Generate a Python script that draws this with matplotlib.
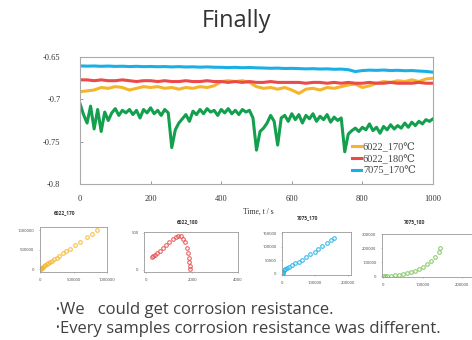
import matplotlib
matplotlib.use("Agg")
import matplotlib.pyplot as plt
import numpy as np

# ---- main chart data ----
t_main = list(range(0, 1001, 20))
s6022_170 = [-0.691, -0.690, -0.689, -0.686, -0.687, -0.685, -0.686, -0.689, -0.687, -0.685,
             -0.686, -0.685, -0.687, -0.686, -0.688, -0.686, -0.687, -0.685, -0.686, -0.684,
             -0.679, -0.678, -0.679, -0.678, -0.680, -0.685, -0.687, -0.686, -0.688, -0.686,
             -0.689, -0.693, -0.688, -0.687, -0.689, -0.686, -0.687, -0.685, -0.683, -0.682,
             -0.686, -0.684, -0.681, -0.679, -0.680, -0.678, -0.679, -0.677, -0.679, -0.676,
             -0.675]
s6022_180 = [-0.677, -0.677, -0.678, -0.677, -0.678, -0.678, -0.677, -0.678, -0.679, -0.678,
             -0.678, -0.679, -0.678, -0.679, -0.679, -0.678, -0.679, -0.679, -0.678, -0.679,
             -0.679, -0.680, -0.679, -0.680, -0.679, -0.680, -0.680, -0.679, -0.680, -0.680,
             -0.680, -0.680, -0.681, -0.680, -0.680, -0.681, -0.680, -0.681, -0.680, -0.681,
             -0.681, -0.680, -0.681, -0.681, -0.680, -0.681, -0.681, -0.681, -0.680, -0.681,
             -0.681]
s7075_170 = [-0.6605, -0.6608, -0.6606, -0.6610, -0.6607, -0.6611, -0.6609, -0.6613, -0.6610, -0.6614,
             -0.6612, -0.6615, -0.6613, -0.6617, -0.6614, -0.6618, -0.6616, -0.6620, -0.6617, -0.6621,
             -0.6622, -0.6625, -0.6622, -0.6627, -0.6624, -0.6628, -0.6630, -0.6633, -0.6631, -0.6636,
             -0.6634, -0.6637, -0.6640, -0.6638, -0.6642, -0.6640, -0.6645, -0.6643, -0.6650, -0.6672,
             -0.6660, -0.6655, -0.6658, -0.6654, -0.6660, -0.6657, -0.6662, -0.6660, -0.6666, -0.6670,
             -0.6680]
t_green = list(range(0, 1001, 10))
s7075_180 = [-0.705, -0.718, -0.728, -0.708, -0.735, -0.712, -0.738, -0.715, -0.725, -0.716,
             -0.711, -0.719, -0.713, -0.716, -0.712, -0.718, -0.713, -0.722, -0.712, -0.716,
             -0.710, -0.717, -0.713, -0.719, -0.712, -0.716, -0.757, -0.736, -0.728, -0.723,
             -0.718, -0.726, -0.714, -0.718, -0.712, -0.717, -0.711, -0.715, -0.713, -0.719,
             -0.712, -0.716, -0.711, -0.717, -0.713, -0.718, -0.712, -0.715, -0.713, -0.722,
             -0.760, -0.738, -0.734, -0.728, -0.719, -0.726, -0.754, -0.722, -0.719, -0.726,
             -0.717, -0.724, -0.718, -0.728, -0.719, -0.723, -0.717, -0.726, -0.720, -0.724,
             -0.718, -0.727, -0.721, -0.725, -0.722, -0.762, -0.741, -0.737, -0.734, -0.738,
             -0.733, -0.736, -0.729, -0.737, -0.733, -0.740, -0.732, -0.736, -0.730, -0.735,
             -0.731, -0.734, -0.728, -0.733, -0.727, -0.731, -0.726, -0.729, -0.724, -0.726,
             -0.723]
legend_labels = ["6022_170\u2103", "6022_180\u2103", "7075_170\u2103"]
main_xticks = [0, 200, 400, 600, 800, 1000]
main_yticks = [-0.65, -0.7, -0.75, -0.8]

# ---- small Nyquist plots ----
n1_x = [0, 5000, 10000, 20000, 30000, 45000, 60000, 80000, 100000, 125000, 150000, 180000,
        210000, 250000, 290000, 340000, 390000, 450000, 520000, 600000, 700000, 780000, 850000]
n1_y = [0, 8000, 15000, 28000, 40000, 58000, 77000, 100000, 125000, 155000, 185000, 220000,
        255000, 300000, 350000, 405000, 460000, 530000, 610000, 700000, 820000, 910000, 1000000]
n2_x = [250, 300, 380, 480, 600, 730, 870, 1010, 1150, 1280, 1400, 1510, 1610, 1700, 1770,
        1820, 1860, 1880, 1890, 1895]
n2_y = [170, 185, 205, 230, 260, 295, 330, 370, 410, 440, 455, 450, 420, 370, 300, 230, 160,
        100, 50, 15]
n3_x = [0, 2000, 4000, 7000, 10000, 15000, 22000, 30000, 40000, 50000, 60000, 72000, 85000,
        98000, 110000, 122000, 135000, 148000, 158000]
n3_y = [0, 4000, 8000, 12000, 16000, 20000, 25000, 31000, 38000, 45000, 52000, 62000, 72000,
        82000, 92000, 103000, 113000, 125000, 133000]
n4_x = [0, 5000, 10000, 20000, 30000, 40000, 50000, 60000, 70000, 80000, 90000, 100000, 110000,
        120000, 130000, 140000, 145000]
n4_y = [0, 1000, 2000, 4000, 6500, 9500, 14000, 20000, 28000, 38000, 52000, 68000, 88000,
        110000, 135000, 170000, 200000]
small_titles = ["6022_170", "6022_180", "7075_170", "7075_180"]
bullets = ["We   could get corrosion resistance.",
           "Every samples corrosion resistance was different."]

c_orange = "#f5b52a"
c_red = "#ea4a4a"
c_blue = "#1ab0e6"
c_green = "#12a04e"
c_green_light = "#7cc45a"

W, H = 472, 340
fig = plt.figure(figsize=(W / 100, H / 100), dpi=100)
fig.patch.set_facecolor("white")

def box(l, t, r, b):
    return [l / W, 1 - b / H, (r - l) / W, (b - t) / H]

serif = ["Liberation Serif", "DejaVu Serif"]
sans = ["Open Sans", "DejaVu Sans"]

fig.text(236 / W, 1 - 21 / H, "Finally", ha="center", va="center", fontsize=17,
         family=sans, color="#333333")

ax = fig.add_axes(box(80, 57, 433, 184))
ax.plot(t_green, s7075_180, color=c_green, lw=2.2, solid_joinstyle="round")
l1, = ax.plot(t_main, s6022_170, color=c_orange, lw=2.2)
l2, = ax.plot(t_main, s6022_180, color=c_red, lw=2.2)
l3, = ax.plot(t_main, s7075_170, color=c_blue, lw=2.2)
ax.set_xlim(0, 1000)
ax.set_ylim(-0.8, -0.65)
ax.set_xticks(main_xticks)
ax.set_yticks(main_yticks)
ax.set_xticklabels([str(v) for v in main_xticks], family=serif, fontsize=6, color="#333333")
ax.set_yticklabels([f"{v:g}" for v in main_yticks], family=serif, fontsize=6, color="#333333")
ax.tick_params(axis="y", direction="in", length=2, width=0.6, color="#888888", pad=14)
ax.tick_params(axis="x", direction="in", length=2, width=0.6, color="#888888", pad=8)
for s in ax.spines.values():
    s.set_color("#aaaaaa")
    s.set_linewidth(0.8)
ax.set_xlabel("Time, t / s", family=serif, fontsize=5.5, labelpad=0, color="#333333")
ax.xaxis.set_label_coords(0.505, -0.19)
leg = ax.legend([l1, l2, l3], legend_labels, loc="lower right", frameon=False,
                prop={"family": serif, "size": 7.5}, handlelength=0.9, handletextpad=0.2,
                labelspacing=0.22, borderaxespad=0.4, bbox_to_anchor=(0.975, 0.0))
for txt in leg.get_texts():
    txt.set_color("#444444")

def small(rect, xs, ys, color, title, title_xy, xlim, ylim, xt, yt):
    a = fig.add_axes(box(*rect))
    a.plot(xs, ys, linestyle="none", marker="o", ms=2.6, mfc="none", mec=color, mew=0.8, alpha=0.85)
    a.set_xlim(*xlim)
    a.set_ylim(*ylim)
    a.set_xticks(xt)
    a.set_yticks(yt)
    a.set_xticklabels([str(v) for v in xt], fontsize=3, family=sans, color="#444444")
    a.set_yticklabels([str(v) for v in yt], fontsize=3, family=sans, color="#444444")
    a.tick_params(length=1, width=0.4, pad=3, color="#888888")
    for s in a.spines.values():
        s.set_color("#999999")
        s.set_linewidth(0.6)
    fig.text(title_xy[0] / W, 1 - title_xy[1] / H, title, ha="center", va="center",
             fontsize=3.5, fontweight="bold", family=sans, color="#333333")
    return a

small((40, 227, 107, 272), n1_x, n1_y, c_orange, small_titles[0], (65, 213),
      (0, 1000000), (-70000, 1080000), [0, 500000, 1000000], [0, 500000, 1000000])
small((144, 232, 238, 272), n2_x, n2_y, c_red, small_titles[1], (188, 222),
      (-100, 3950), (-30, 510), [0, 2000, 4000], [0, 500])
small((282, 232, 351, 275), n3_x, n3_y, c_blue, small_titles[2], (308, 218),
      (0, 208000), (-5000, 155000), [0, 100000, 200000], [0, 50000, 100000, 150000])
small((382, 234, 480, 277), n4_x, n4_y, c_green_light, small_titles[3], (415, 222),
      (-3000, 245000), (-6000, 300000), [0, 100000, 200000], [0, 100000, 200000, 300000])

for i, (txt, yy) in enumerate(zip(bullets, [310, 329])):
    fig.text(55 / W, 1 - yy / H, "\u2022", ha="left", va="center", fontsize=7,
             family=sans, color="#404040")
    fig.text(60 / W, 1 - yy / H, txt, ha="left", va="center", fontsize=12,
             family=sans, color="#404040")

fig.savefig("out.png", dpi=100, facecolor="white")
